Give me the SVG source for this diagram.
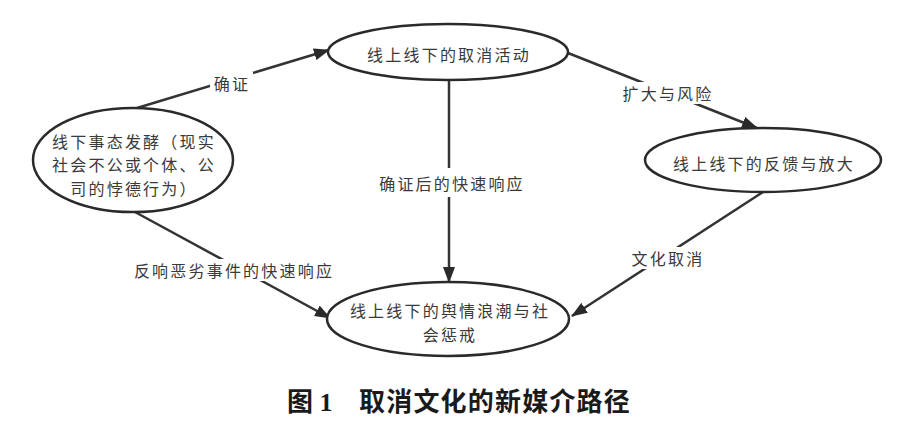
<svg xmlns="http://www.w3.org/2000/svg" width="906" height="427" viewBox="0 0 906 427">
<style>
.node ellipse{fill:#fff;stroke:#2a2a2a;stroke-width:2.5}
.nt{font-family:"Noto Sans CJK SC","Noto Sans",sans-serif;font-size:16px;letter-spacing:2.2px;fill:#3a3a3a;text-anchor:middle;dominant-baseline:central}
.edge{stroke:#333;stroke-width:2.5;fill:none;marker-end:url(#ah)}
.lbg{fill:#fff}
.lt{font-family:"Noto Sans CJK SC","Noto Sans",sans-serif;font-size:16px;letter-spacing:2.2px;fill:#3a3a3a;text-anchor:middle;dominant-baseline:central}
.cap{font-family:"Liberation Serif","Noto Sans CJK SC",serif;font-size:26px;font-weight:bold;fill:#1a1a1a;dominant-baseline:central}
</style>
<defs>
<marker id="ah" markerUnits="userSpaceOnUse" markerWidth="16" markerHeight="12" refX="15" refY="6" orient="auto">
<path d="M0,0 L16,6 L0,12 z" fill="#2a2a2a"/>
</marker>
</defs>
<rect width="906" height="427" fill="#fff"/>
<g id="connectors">
<line class="edge" x1="137" y1="108" x2="329" y2="50"/>
<line class="edge" x1="568" y1="53" x2="757" y2="128"/>
<line class="edge" x1="449" y1="80" x2="449" y2="282"/>
<line class="edge" x1="763" y1="192" x2="572" y2="316"/>
<line class="edge" x1="135" y1="212" x2="330" y2="318"/>
<rect class="lbg" x="210" y="72" width="43" height="22"/>
<text class="lt" x="232" y="83">确证</text>
<rect class="lbg" x="619" y="82" width="97" height="22"/>
<text class="lt" x="668" y="93">扩大与风险</text>
<rect class="lbg" x="374" y="168" width="154" height="29"/>
<text class="lt" x="452" y="183">确证后的快速响应</text>
<rect class="lbg" x="627" y="247" width="80" height="22"/>
<text class="lt" x="668" y="258">文化取消</text>
<rect class="lbg" x="129" y="259" width="208" height="22"/>
<text class="lt" x="234" y="270">反响恶劣事件的快速响应</text>
</g>
<g id="n1" class="node">
<ellipse cx="448" cy="52" rx="120" ry="28"/>
<text class="nt" x="449" y="54">线上线下的取消活动</text>
</g>
<g id="n2" class="node">
<ellipse cx="133" cy="160" rx="100" ry="52"/>
<text class="nt" x="134" y="140.5">线下事态发酵（现实</text>
<text class="nt" x="134" y="164">社会不公或个体、公</text>
<text class="nt" x="134" y="187.5">司的悖德行为）</text>
</g>
<g id="n3" class="node">
<ellipse cx="763" cy="160" rx="118" ry="32"/>
<text class="nt" x="764" y="163">线上线下的反馈与放大</text>
</g>
<g id="n4" class="node">
<ellipse cx="448" cy="319" rx="121" ry="37"/>
<text class="nt" x="450" y="309.5">线上线下的舆情浪潮与社</text>
<text class="nt" x="450" y="333.5">会惩戒</text>
</g>
<text class="cap" y="402"><tspan x="287">图 1</tspan><tspan x="359" letter-spacing="1.2">取消文化的新媒介路径</tspan></text>
</svg>
